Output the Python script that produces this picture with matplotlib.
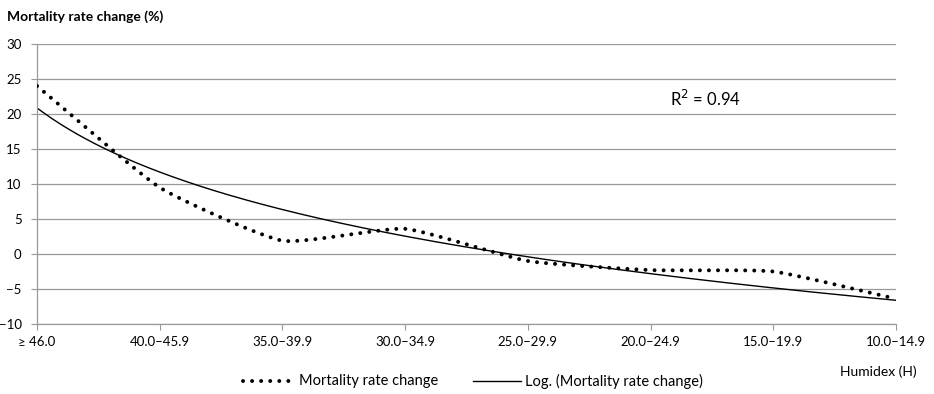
import numpy as np
import matplotlib
matplotlib.use("Agg")
import matplotlib.pyplot as plt
from matplotlib.lines import Line2D

plt.rcParams['font.family'] = ['Lato', 'DejaVu Sans']

categories = ["≥ 46.0", "40.0–45.9", "35.0–39.9", "30.0–34.9",
              "25.0–29.9", "20.0–24.9", "15.0–19.9", "10.0–14.9"]
mortality_change = [24.0, 9.5, 1.9, 3.6, -1.0, -2.3, -2.5, -6.4]
y_ticks = [-10, -5, 0, 5, 10, 15, 20, 25, 30]

x = np.arange(1, len(categories) + 1, dtype=float)
y = np.array(mortality_change)

# Logarithmic trend line y = a*ln(x) + b
a, b = np.polyfit(np.log(x), y, 1)
fit = a * np.log(x) + b
r2 = 1 - np.sum((y - fit) ** 2) / np.sum((y - y.mean()) ** 2)


def smooth_curve(px, py, tension=0.08, n=80):
    """Cubic Bezier smoothing through all points with short control arms."""
    P = np.column_stack([px, py])
    P_ext = np.vstack([P[0], P, P[-1]])
    out = []
    t = np.linspace(0, 1, n)
    last = len(P) - 2
    for i in range(len(P) - 1):
        p0, p1, p2, p3 = P_ext[i], P_ext[i + 1], P_ext[i + 2], P_ext[i + 3]
        f1 = 2 * tension if i == 0 else tension
        f2 = 2 * tension if i == last else tension
        c1 = p1 + (p2 - p0) * f1
        c2 = p2 - (p3 - p1) * f2
        seg = ((1 - t) ** 3)[:, None] * p1 + (3 * (1 - t) ** 2 * t)[:, None] * c1 \
            + (3 * (1 - t) * t ** 2)[:, None] * c2 + (t ** 3)[:, None] * p2
        out.append(seg if i == 0 else seg[1:])
    S = np.vstack(out)
    return S[:, 0], S[:, 1]


sx, sy = smooth_curve(x, y)
tx = np.linspace(1, len(categories), 300)
ty = a * np.log(tx) + b

W, H = 934, 394
fig = plt.figure(figsize=(W / 100, H / 100), dpi=100)
ax = fig.add_axes([37 / W, 1 - 324 / H, (896 - 37) / W, (324 - 44) / H])

grid_color = '#999999'
dot_lw = 2.85
dot_style = (0, (0.01, 2.28))

for v in y_ticks:
    ax.axhline(v, color=grid_color, lw=0.9, zorder=1)

ax.plot(sx, sy, color='black', lw=dot_lw, linestyle=dot_style,
        dash_capstyle='round', zorder=3)
ax.plot(tx, ty, color='black', lw=1.0, zorder=2)

ax.set_xlim(1, len(categories))
ax.set_ylim(-10, 30)
ax.set_yticks(y_ticks)
ax.set_xticks(x)
ax.set_xticklabels(categories)
for s in ['top', 'right']:
    ax.spines[s].set_visible(False)
for s in ['left', 'bottom']:
    ax.spines[s].set_color(grid_color)
    ax.spines[s].set_linewidth(0.9)
ax.tick_params(axis='y', length=4, color=grid_color, labelsize=9.5, pad=7)
ax.tick_params(axis='x', length=4, color=grid_color, labelsize=9.5, pad=5)

fig.text(7 / W, 1 - 17 / H, "Mortality rate change (%)", fontsize=10,
         fontweight='bold', va='center', ha='left')
fig.text(917 / W, 1 - 372 / H, "Humidex (H)", fontsize=10,
         va='center', ha='right')
ax.text(1 + (670 - 37) / 122.7, 22.1, "R$^2$ = %.2f" % r2, fontsize=12,
        ha='left', va='center')

# Legend drawn in figure coordinates
ly = 1 - 381 / H
fig.add_artist(Line2D([243 / W, 290 / W], [ly, ly], transform=fig.transFigure,
                      color='black', lw=dot_lw, linestyle=dot_style,
                      dash_capstyle='round'))
fig.text(299 / W, ly, "Mortality rate change", fontsize=10.5,
         va='center', ha='left')
fig.add_artist(Line2D([473 / W, 521 / W], [ly, ly], transform=fig.transFigure,
                      color='black', lw=1.0))
fig.text(525 / W, ly, "Log. (Mortality rate change)", fontsize=10.5,
         va='center', ha='left')

fig.savefig("out.png", dpi=100)
